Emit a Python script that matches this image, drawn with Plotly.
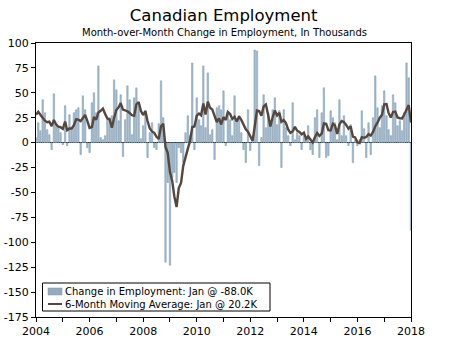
import pandas as pd
import plotly.graph_objects as go

# ---- data (thousands, month-over-month change) ----
start_month = "2004-01-01"
prior_2003 = [2, 30, 61, 48, 22]  # Aug-Dec 2003, only used for the moving average
change = [
    5, 20, 12, 43, 30, 13, 8, -7, 49, 18, 15, 10,            # 2004
    -2, 37, -3, 28, 15, 30, 33, 35, -12, 47, 33, -5,         # 2005
    -10, 40, 50, 30, 77, 5, 3, 7, 23, 25, 27, 63,            # 2006
    53, 22, 48, -14, 23, 57, 43, 8, 45, 55, 37, 4,           # 2007
    17, 32, -15, 10, 20, -5, -7, 19, 62, 25, -120, -40,      # 2008
    -123, -35, -30, -40, -5, -10, -20, 10, 27, 7, 80, -7,    # 2009
    45, 23, 17, 77, 15, 70, 8, 13, -17, 35, 37, 33,          # 2010
    52, -3, 30, 23, 7, 47, 23, 27, 10, -7, -20, 33,          # 2011
    -8, 3, 93, 92, -23, 5, 48, 15, 30, 22, 33, 45,           # 2012
    18, 32, -25, 33, 15, 7, -3, 40, 3, 10, 7, -7,            # 2013
    7, 3, 17, -7, -12, 25, 33, -15, 30, 55, -15, -13,        # 2014
    32, 25, 20, 3, 43, 7, 27, 7, -3, 18, -20, 3,             # 2015
    -3, 3, 32, 14, -15, 20, -12, 25, 67, 35, 15, 37,         # 2016
    52, 27, 13, 7, 48, 40, 17, 22, 12, 30, 80, 65,           # 2017
    -88.0,                                                    # Jan 2018
]
bar_name = "Change in Employment: Jan @ -88.0K"
line_name = "6-Month Moving Average: Jan @ 20.2K"

y_ticks = list(range(-175, 101, 25))
y_ticktext = [str(v) for v in y_ticks]  # plain hyphen minus
x_ticks = [f"{y}-01-01" for y in range(2004, 2019, 2)]
x_ticktext = [str(y) for y in range(2004, 2019, 2)]

dates = pd.date_range(start_month, periods=len(change), freq="MS")
ma = pd.Series(prior_2003 + change).rolling(6).mean().iloc[len(prior_2003):].round(1).tolist()

FONT = "Verdana, DejaVu Sans, sans-serif"
BAR_FILL = "#a9bdcd"
BAR_EDGE = "#7797b0"
LINE_COL = "#55473d"

fig = go.Figure()
fig.add_trace(go.Bar(
    x=dates, y=change, name=bar_name, showlegend=False,
    marker=dict(color=BAR_FILL, line=dict(color=BAR_EDGE, width=0.5)),
))
fig.add_trace(go.Scatter(
    x=dates, y=ma, name=line_name, mode="lines", showlegend=False,
    line=dict(color=LINE_COL, width=2.4),
))

x_range = ["2004-01-01", "2018-01-01"]
common_x = dict(type="date", range=x_range, tickvals=x_ticks, ticktext=x_ticktext,
                showgrid=False, zeroline=False, automargin=False)
common_y = dict(range=[-175, 100], tickvals=y_ticks, ticktext=y_ticktext,
                showgrid=False, automargin=False)

# plot area in px: x 36..411, y 43..317 -> helpers for paper coords
def px_x(p):
    return (p - 36) / 375.0

def px_y(p):
    return (317 - p) / 274.0

legend_shapes = [
    dict(type="rect", xref="paper", yref="paper",
         x0=px_x(42.5), x1=px_x(270), y0=px_y(311), y1=px_y(283),
         line=dict(color="black", width=1), fillcolor="white", layer="above"),
    dict(type="rect", xref="paper", yref="paper",
         x0=px_x(48), x1=px_x(62), y0=px_y(295), y1=px_y(288),
         line=dict(color=BAR_EDGE, width=0.5), fillcolor="#93abbf", layer="above"),
    dict(type="line", xref="paper", yref="paper",
         x0=px_x(48), x1=px_x(62), y0=px_y(304), y1=px_y(304),
         line=dict(color=LINE_COL, width=2), layer="above"),
]
legend_texts = [
    dict(text=bar_name, xref="paper", yref="paper", x=px_x(62.5), y=px_y(291.5),
         xanchor="left", yanchor="middle", showarrow=False,
         font=dict(size=10, family=FONT, color="black")),
    dict(text=line_name, xref="paper", yref="paper", x=px_x(62.5), y=px_y(304),
         xanchor="left", yanchor="middle", showarrow=False,
         font=dict(size=10, family=FONT, color="black")),
]

fig.update_layout(
    width=450, height=340,
    margin=dict(l=36, r=39, t=43, b=23, autoexpand=False),
    paper_bgcolor="white", plot_bgcolor="white",
    font=dict(family=FONT, size=11, color="black"),
    bargap=0.3,
    showlegend=False,
    title=dict(text="Canadian Employment", x=0.497, xref="container",
               y=1 - 15 / 340, yref="container", yanchor="middle", xanchor="center",
               automargin=False,
               font=dict(size=16.5, family=FONT, color="black")),
    annotations=[dict(text="Month-over-Month Change in Employment, In Thousands",
                      xref="paper", yref="paper", x=px_x(224), y=px_y(32),
                      xanchor="center", yanchor="middle", showarrow=False,
                      font=dict(size=10, family=FONT, color="black"))] + legend_texts,
    shapes=legend_shapes,
    xaxis=dict(**common_x, ticks="outside", ticklen=4, tickcolor="black",
               showline=True, linecolor="black", linewidth=1, mirror=True,
               minor=dict(dtick="M12", ticks="outside", ticklen=4, tickcolor="black"),
               tickfont=dict(size=11)),
    xaxis2=dict(**common_x, overlaying="x", ticks="inside", ticklen=4, tickcolor="black",
                showticklabels=False, showline=False,
                minor=dict(dtick="M12", ticks="inside", ticklen=4, tickcolor="black")),
    yaxis=dict(**common_y, ticks="outside", ticklen=4, tickcolor="black",
               showline=True, linecolor="black", linewidth=1, mirror=True,
               zeroline=True, zerolinecolor="black", zerolinewidth=1.2,
               tickfont=dict(size=11)),
    yaxis2=dict(**common_y, overlaying="y", side="right", ticks="outside", ticklen=4,
                tickcolor="black", showline=False, zeroline=False,
                tickfont=dict(size=11)),
    yaxis3=dict(**common_y, overlaying="y", side="left", ticks="inside", ticklen=4,
                tickcolor="black", showticklabels=False, showline=False, zeroline=False),
    yaxis4=dict(**common_y, overlaying="y", side="right", ticks="inside", ticklen=4,
                tickcolor="black", showticklabels=False, showline=False, zeroline=False),
)

fig.write_html("out.html")
